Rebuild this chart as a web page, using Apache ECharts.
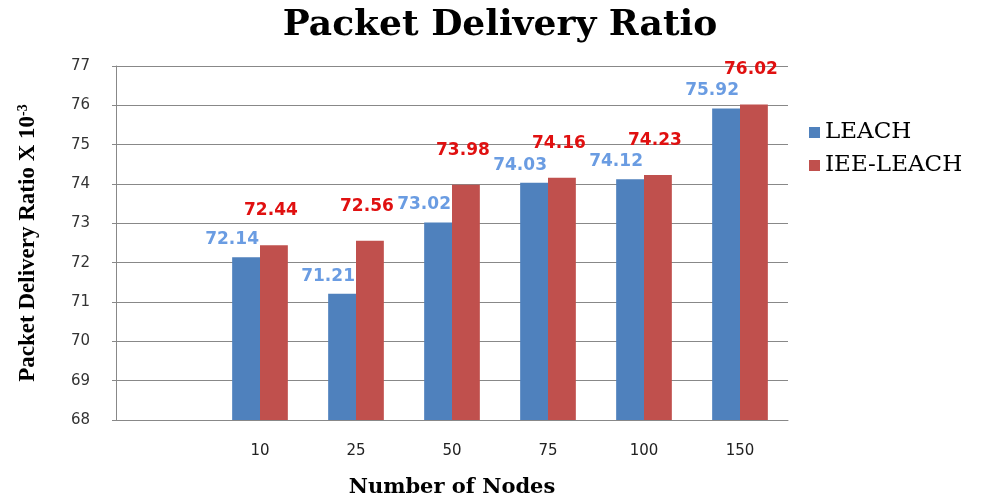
<!DOCTYPE html>
<html>
<head>
<meta charset="utf-8">
<script src="https://cdn.jsdelivr.net/npm/echarts@6/dist/echarts.min.js"></script>
<style>html,body{margin:0;padding:0;background:#fff}#c{width:1000px;height:499px}</style>
</head>
<body>
<div id="c"></div>
<script>
var categories = ['', '10', '25', '50', '75', '100', '150'];
var leach = [null, 72.14, 71.21, 73.02, 74.03, 74.12, 75.92];
var ieeLeach = [null, 72.44, 72.56, 73.98, 74.16, 74.23, 76.02];
var seriesNames = ['LEACH', 'IEE-LEACH'];

var chart = echarts.init(document.getElementById('c'));
var labelFont = {fontFamily: 'DejaVu Sans', fontSize: 17, fontWeight: 'bold'};
chart.setOption({
  animation: false,
  backgroundColor: '#fff',
  title: {
    text: 'Packet Delivery Ratio',
    left: 'center', top: 3,
    textStyle: {fontFamily: 'DejaVu Serif', fontWeight: 'bold', fontSize: 36, color: '#000'}
  },
  legend: {
    orient: 'vertical', left: 804, top: 116, itemGap: 10,
    itemWidth: 11, itemHeight: 11, icon: 'rect',
    textStyle: {fontFamily: 'DejaVu Serif', fontSize: 23, color: '#000'},
    data: seriesNames
  },
  grid: {left: 116, right: 212, top: 66, bottom: 79, outerBoundsMode: 'none', containLabel: false},
  xAxis: {
    type: 'category', data: categories,
    name: 'Number of Nodes', nameLocation: 'middle', nameGap: 57,
    nameTextStyle: {fontFamily: 'DejaVu Serif', fontWeight: 'bold', fontSize: 21, color: '#000'},
    axisLine: {lineStyle: {color: '#888'}},
    axisTick: {show: false},
    axisLabel: {margin: 24, fontFamily: 'DejaVu Sans', fontSize: 15, color: '#222'}
  },
  yAxis: {
    type: 'value', min: 68, max: 77, interval: 1,
    name: '{a|Packet Delivery Ratio X 10}{s|-3}', nameLocation: 'middle', nameGap: 76, nameRotate: 90,
    nameTextStyle: {
      rich: {
        a: {fontFamily: 'Liberation Serif', fontWeight: 'bold', fontSize: 23, color: '#000'},
        s: {fontFamily: 'Liberation Serif', fontWeight: 'bold', fontSize: 14, color: '#000', verticalAlign: 'top', padding: [0, 0, 10, 0]}
      }
    },
    axisLine: {show: true, lineStyle: {color: '#888'}},
    axisTick: {show: true, length: 4, lineStyle: {color: '#888'}},
    splitLine: {lineStyle: {color: '#888'}},
    axisLabel: {margin: 26, fontFamily: 'DejaVu Sans', fontSize: 15, color: '#333'}
  },
  series: [
    {
      name: seriesNames[0], type: 'bar', data: leach,
      barGap: '0%', barCategoryGap: '42%',
      itemStyle: {color: '#4F81BD'},
      label: Object.assign({show: true, position: 'top', offset: [-14, -4], color: '#6A9CE2'}, labelFont)
    },
    {
      name: seriesNames[1], type: 'bar', data: ieeLeach,
      barGap: '0%', barCategoryGap: '42%',
      itemStyle: {color: '#C0504D'},
      label: Object.assign({show: true, position: 'top', offset: [-3, -21], color: '#E01010'}, labelFont)
    }
  ]
});
</script>
</body>
</html>
